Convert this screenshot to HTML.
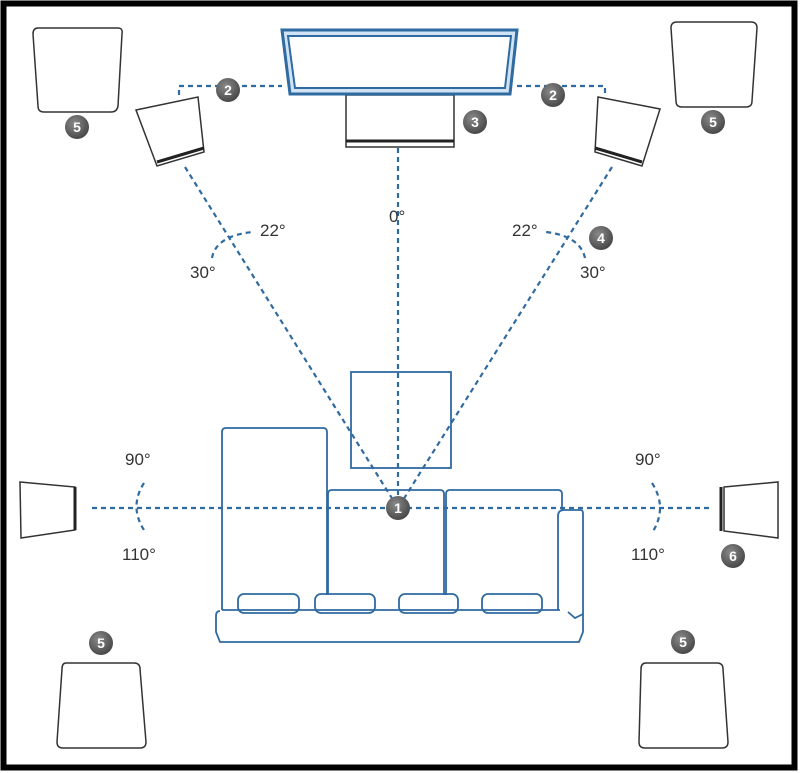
<!DOCTYPE html>
<html><head><style>html,body{margin:0;padding:0;background:#fff}svg{display:block}
text{font-family:"Liberation Sans",sans-serif;font-size:17px;fill:#333}
.b text{font-size:14px;font-weight:bold;fill:#fff}</style></head><body>
<svg width="800" height="773" viewBox="0 0 800 773" xmlns="http://www.w3.org/2000/svg">
<defs><radialGradient id="g" cx="0.4" cy="0.35" r="0.7"><stop offset="0" stop-color="#8a8a8a"/><stop offset="1" stop-color="#444"/></radialGradient></defs>
<rect x="3.5" y="3.5" width="791" height="764" fill="none" stroke="#000" stroke-width="6"/>
<g stroke="#2f6aa0" stroke-width="2.2" stroke-dasharray="5,4" fill="none">
<path d="M179 95 V86 H282"/><path d="M517 86 H605 V95"/>
<path d="M185 167 L398 508"/><path d="M398 148 V508"/><path d="M612 167 L398 508"/>
<path d="M92 508 H710"/>
<path d="M212 258 Q216 236 252 232"/><path d="M585 258 Q580 236 546 232"/>
<path d="M144 483 Q128 508 146 533"/><path d="M652 483 Q668 508 652 533"/>
</g>
<g fill="#fff" stroke="#333" stroke-width="1.5">
<path d="M38 28 H118 Q123 28 122 34 L118 106 Q117 112 111 112 H44 Q38 112 38 106 L33 34 Q33 28 38 28Z"/>
<path d="M677 22 H751 Q757 22 757 28 L752 101 Q752 107 746 107 H682 Q676 107 676 101 L671 28 Q671 22 677 22Z"/>
<path d="M66 663 H134 Q140 663 140 669 L146 742 Q146 748 140 748 H63 Q57 748 57 742 L62 669 Q62 663 66 663Z"/>
<path d="M646 663 H717 Q723 663 723 669 L728 742 Q728 748 722 748 H645 Q639 748 639 742 L641 669 Q641 663 646 663Z"/>
<path d="M136 110 L198 97 L204 152 L157 166Z"/>
<path d="M598 97 L660 109 L642 166 L595 152Z"/>
<path d="M20 482 L75 487 L75 530 L21 538Z"/>
<path d="M724 487 L778 482 L778 538 L724 531Z"/>
<rect x="346" y="95" width="108" height="52"/>
</g>
<g stroke="#222" stroke-width="3">
<path d="M157 162 L204 148"/><path d="M595 148 L642 162"/>
<path d="M346 141 H454"/><path d="M75 487 V530"/><path d="M721 487 V531"/>
</g>
<g fill="none" stroke="#2f6aa0">
<path d="M282 30 H517 L510 94 H290Z" stroke-width="3" fill="#cfe3f5"/>
<path d="M288 36 H511 L505 88 H295Z" stroke-width="2" fill="#fff"/>
</g>
<g fill="none" stroke="#2f6aa0" stroke-width="1.8">
<rect x="351" y="372" width="100" height="96"/>
<path d="M222 610 V432 Q222 428 226 428 H323 Q327 428 327 432 V595"/>
<path d="M328 595 V494 Q328 490 332 490 H440 Q444 490 444 494 V595"/>
<path d="M446 595 V494 Q446 490 450 490 H558 Q562 490 562 494 V510"/>
<path d="M558 610 V516 Q558 510 564 510 H581 Q583 510 583 514 V614 L575 618 L568 612"/>
<path d="M222 610 H560"/>
<path d="M220 611 Q216 611 216 616 V632 L220 642 H579 L583 632 V614"/>
<rect x="238" y="594" width="61" height="19" rx="6"/>
<rect x="315" y="594" width="60" height="19" rx="6"/>
<rect x="399" y="594" width="59" height="19" rx="6"/>
<rect x="482" y="594" width="60" height="19" rx="6"/>
</g>
<g class="b">
<circle cx="77" cy="127" r="12" fill="url(#g)"/><text x="77" y="132" text-anchor="middle">5</text>
<circle cx="713" cy="122" r="12" fill="url(#g)"/><text x="713" y="127" text-anchor="middle">5</text>
<circle cx="101" cy="643" r="12" fill="url(#g)"/><text x="101" y="648" text-anchor="middle">5</text>
<circle cx="683" cy="642" r="12" fill="url(#g)"/><text x="683" y="647" text-anchor="middle">5</text>
<circle cx="228" cy="90" r="12" fill="url(#g)"/><text x="228" y="95" text-anchor="middle">2</text>
<circle cx="553" cy="95" r="12" fill="url(#g)"/><text x="553" y="100" text-anchor="middle">2</text>
<circle cx="475" cy="122" r="12" fill="url(#g)"/><text x="475" y="127" text-anchor="middle">3</text>
<circle cx="601" cy="238" r="12" fill="url(#g)"/><text x="601" y="243" text-anchor="middle">4</text>
<circle cx="398" cy="508" r="12" fill="url(#g)"/><text x="398" y="513" text-anchor="middle">1</text>
<circle cx="733" cy="556" r="12" fill="url(#g)"/><text x="733" y="561" text-anchor="middle">6</text>
</g>
<text x="260" y="236">22°</text><text x="190" y="278">30°</text>
<text x="389" y="222">0°</text>
<text x="512" y="236">22°</text><text x="580" y="278">30°</text>
<text x="125" y="465">90°</text><text x="122" y="560">110°</text>
<text x="635" y="465">90°</text><text x="631" y="560">110°</text>
</svg></body></html>
